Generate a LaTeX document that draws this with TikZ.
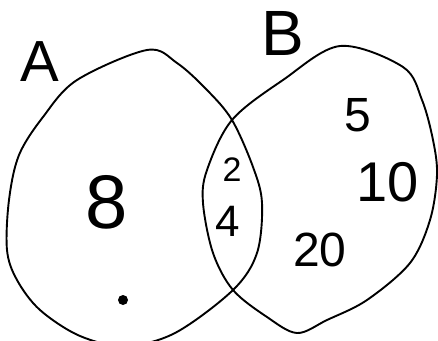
\documentclass[tikz,border=0pt]{standalone}
\usepackage{fontspec}
\setmainfont{Liberation Sans}
\usepackage{tikz}
\usetikzlibrary{positioning,calc}

\begin{document}
\begin{tikzpicture}[x=1pt, y=-1pt,
    setline/.style={line width=1.9pt, line join=round, line cap=round},
    num/.style={inner sep=0pt, font=\fontsize{#1}{#1}\selectfont},
    dotmark/.style={circle, fill, inner sep=0pt, minimum size=10pt}]
    \clip (0,0) rectangle (438,340);
    % set A
    \draw[setline] plot[smooth cycle, tension=0.55] coordinates {
      (233,290) (175,333) (125,346) (80,336) (40,310) (17,280) (7,250)
      (9,200) (19,155) (43,117) (77,80) (147,50) (177,63) (207,90)
      (232,120) (253,167) (262,203) (257,253)};
    % set B
    \draw[setline] plot[smooth cycle, tension=0.55] coordinates {
      (233,290) (213,253) (203,203) (207,170) (232,120) (283,80)
      (340,46) (403,67) (422,100) (433,140) (437,175) (430,220)
      (410,263) (367,300) (327,320) (297,333) (267,317)};
    \node[num=58pt] (lblA) at (40,62) {A};
    \node[num=64pt] (lblB) at (283,33) {B};
    \node[num=76pt] (n8) at (107,202) {8};
    \node[num=34pt] (n2) at (232,170) {2};
    \node[num=44pt] (n4) at (228,221) {4};
    \node[num=48pt] (n5) at (358,115) {5};
    \node[num=56pt] (n10) at (388,182) {10};
    \node[num=48pt] (n20) at (320,250) {20};
    \node[dotmark] (dot) at (123,300) {};
\end{tikzpicture}
\end{document}
